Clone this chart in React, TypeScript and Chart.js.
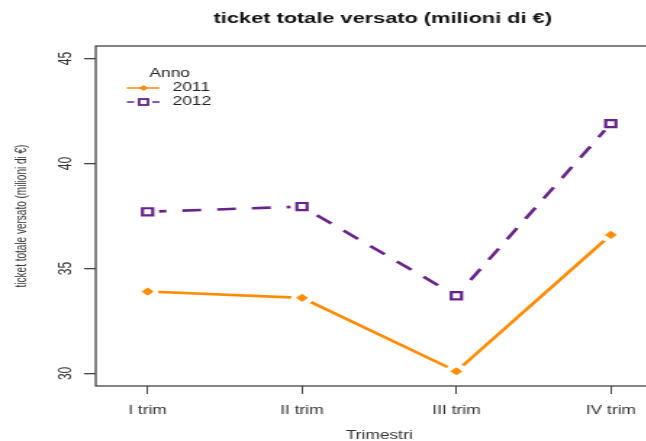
import React, { useEffect, useRef } from 'react';
import { Chart, registerables } from 'chart.js';

Chart.register(...registerables);

// ---- data ----
const quarters = ['I trim', 'II trim', 'III trim', 'IV trim'];
const quarterPos = [1, 2, 3, 4];
const values2011 = [33.9, 33.6, 30.1, 36.6];
const values2012 = [37.7, 37.95, 33.7, 41.9];
const yTicks = [30, 35, 40, 45];
const seriesNames = ['2011', '2012'];
const legendTitle = 'Anno';
const chartTitle = 'ticket totale versato (milioni di €)';
const xTitle = 'Trimestri';
const yTitle = 'ticket totale versato (milioni di €)';

// ---- style ----
const ORANGE = '#FF8C00';
const PURPLE = '#68228B';
const STRETCH = 1.45;
const W = 528;
const H = 441;
const FAMILY = "'Liberation Sans', Arial, Helvetica, sans-serif";

const toPoints = (vals: number[]) => quarterPos.map((x, i) => ({ x, y: vals[i] }));

const boxPlugin = {
  id: 'rbox',
  beforeDatasetsDraw(chart: any) {
    const { ctx, chartArea } = chart;
    ctx.save();
    ctx.strokeStyle = '#444';
    ctx.lineWidth = 1.3;
    ctx.strokeRect(chartArea.left, chartArea.top, chartArea.right - chartArea.left, chartArea.bottom - chartArea.top);
    ctx.restore();
  },
};

const legendPlugin = {
  id: 'rlegend',
  afterDraw(chart: any) {
    const { ctx, chartArea } = chart;
    const x0 = chartArea.left;
    ctx.save();
    ctx.font = `12px ${FAMILY}`;
    ctx.fillStyle = '#222';
    ctx.textBaseline = 'middle';
    ctx.textAlign = 'left';
    ctx.fillText(legendTitle, x0 + 37, 74);
    const entries = chart.data.datasets.filter((d: any) => d.legendEntry);
    entries.forEach((d: any, i: number) => {
      const y = 88 + i * 14;
      const lx1 = x0 + 21.5;
      const lx2 = x0 + 44;
      const mx = x0 + 33;
      ctx.strokeStyle = d.borderColor;
      ctx.lineWidth = 1.5;
      ctx.beginPath();
      if (d.dashed) {
        ctx.moveTo(lx1, y);
        ctx.lineTo(lx1 + 5, y);
        ctx.moveTo(lx2 - 5, y);
        ctx.lineTo(lx2, y);
      } else {
        ctx.moveTo(lx1, y);
        ctx.lineTo(lx2, y);
      }
      ctx.stroke();
      if (d.pointStyle === 'rect') {
        ctx.fillStyle = '#fff';
        ctx.lineWidth = 1.8;
        ctx.fillRect(mx - 3, y - 3, 6, 6);
        ctx.strokeRect(mx - 3, y - 3, 6, 6);
      } else {
        ctx.fillStyle = d.borderColor;
        ctx.beginPath();
        ctx.moveTo(mx, y - 3);
        ctx.lineTo(mx + 3, y);
        ctx.lineTo(mx, y + 3);
        ctx.lineTo(mx - 3, y);
        ctx.closePath();
        ctx.fill();
      }
      ctx.fillStyle = '#222';
      ctx.fillText(d.label, x0 + 53, y);
    });
    ctx.restore();
  },
};

export default function App() {
  const canvasRef = useRef<HTMLCanvasElement | null>(null);

  useEffect(() => {
    document.body.style.margin = '0';
    const canvas = canvasRef.current;
    if (!canvas) return;
    const chart = new Chart(canvas, {
      type: 'line',
      data: {
        datasets: [
          // lines (drawn first / underneath)
          {
            label: seriesNames[0],
            data: toPoints(values2011),
            borderColor: ORANGE,
            borderWidth: 2.6,
            pointRadius: 0,
            tension: 0,
            order: 3,
          } as any,
          {
            label: seriesNames[1],
            data: toPoints(values2012),
            borderColor: PURPLE,
            borderWidth: 2.6,
            borderDash: [13, 11],
            pointRadius: 0,
            tension: 0,
            order: 3,
          },
          // white gaps around points (type "b" look)
          {
            label: 'gap2011',
            data: toPoints(values2011),
            showLine: false,
            pointStyle: 'circle',
            pointRadius: 7.5,
            pointBackgroundColor: '#ffffff',
            pointBorderWidth: 0,
            pointBorderColor: '#ffffff',
            order: 2,
          },
          {
            label: 'gap2012',
            data: toPoints(values2012),
            showLine: false,
            pointStyle: 'circle',
            pointRadius: 8,
            pointBackgroundColor: '#ffffff',
            pointBorderWidth: 0,
            pointBorderColor: '#ffffff',
            order: 2,
          },
          // markers
          {
            label: seriesNames[0],
            data: toPoints(values2011),
            showLine: false,
            borderColor: ORANGE,
            pointStyle: 'rectRot',
            pointRadius: 3.6,
            pointBackgroundColor: ORANGE,
            pointBorderColor: ORANGE,
            pointBorderWidth: 1,
            order: 1,
            legendEntry: true,
          } as any,
          {
            label: seriesNames[1],
            data: toPoints(values2012),
            showLine: false,
            borderColor: PURPLE,
            pointStyle: 'rect',
            pointRadius: 5,
            pointBackgroundColor: '#fff',
            pointBorderColor: PURPLE,
            pointBorderWidth: 2.2,
            order: 1,
            legendEntry: true,
            dashed: true,
          } as any,
        ],
      },
      options: {
        animation: false,
        responsive: false,
        events: [],
        layout: { padding: 0 },
        plugins: {
          legend: { display: false },
          tooltip: { enabled: false },
          title: {
            display: true,
            text: chartTitle,
            color: '#111',
            font: { family: FAMILY, size: 15, weight: 'bold' },
            padding: { top: 9.5, bottom: 18.5 },
          },
        },
        scales: {
          x: {
            type: 'linear',
            min: 0.664,
            max: 4.336,
            afterBuildTicks: (s: any) => {
              s.ticks = quarterPos.map((v) => ({ value: v }));
            },
            afterFit: (s: any) => {
              s.height = 55;
            },
            ticks: {
              autoSkip: false,
              maxRotation: 0,
              minRotation: 0,
              padding: 9,
              color: '#333',
              font: { family: FAMILY, size: 12 },
              callback: (v: any) => {
                const i = quarterPos.indexOf(Number(v));
                return i >= 0 ? quarters[i] : '';
              },
            },
            grid: { drawOnChartArea: false, drawTicks: true, tickLength: 8, color: '#444', lineWidth: 1 },
            border: { display: false },
            title: {
              display: true,
              text: xTitle,
              color: '#333',
              font: { family: FAMILY, size: 12 },
              padding: { top: 0, bottom: -2 },
            },
          },
          y: {
            type: 'linear',
            position: 'left',
            min: 29.4,
            max: 45.6,
            afterBuildTicks: (s: any) => {
              s.ticks = yTicks.map((v) => ({ value: v }));
            },
            afterFit: (s: any) => {
              s.width = 66;
            },
            ticks: {
              minRotation: 90,
              maxRotation: 90,
              crossAlign: 'center',
              padding: 6,
              color: '#333',
              font: { family: FAMILY, size: 12 },
            },
            grid: { drawOnChartArea: false, drawTicks: true, tickLength: 8, color: '#444', lineWidth: 1.3 },
            border: { display: false },
            title: {
              display: true,
              text: yTitle,
              color: '#333',
              font: { family: FAMILY, size: 10 },
              padding: { top: 9, bottom: 0 },
            },
          },
          y2: {
            type: 'linear',
            position: 'right',
            display: true,
            afterFit: (s: any) => {
              s.width = 71;
            },
            ticks: { display: false },
            grid: { display: false },
            border: { display: false },
          },
        },
      } as any,
      plugins: [boxPlugin, legendPlugin],
    });
    return () => chart.destroy();
  }, []);

  return (
    <div
      style={{
        position: 'fixed',
        left: 0,
        top: 0,
        width: 646,
        height: 441,
        overflow: 'hidden',
        background: '#fff',
      }}
    >
      <div style={{ width: W, height: H, transform: `scaleX(${STRETCH})`, transformOrigin: '0 0' }}>
        <canvas ref={canvasRef} width={W} height={H} style={{ display: 'block' }} />
      </div>
    </div>
  );
}
